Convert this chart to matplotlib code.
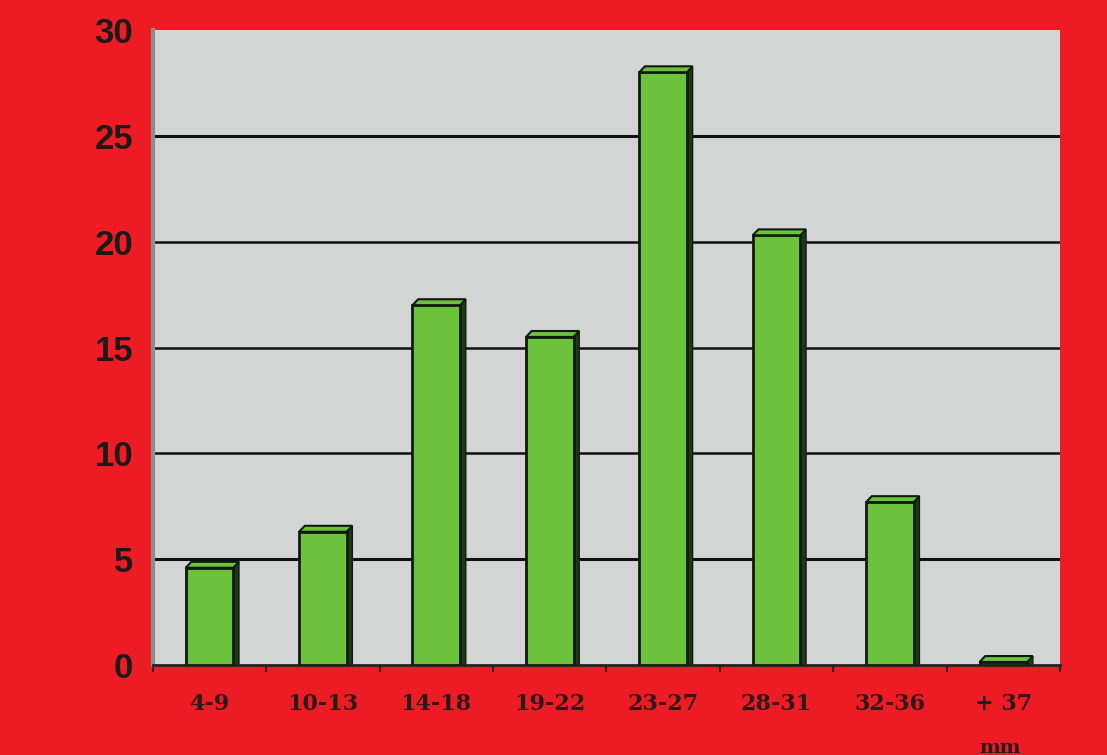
import numpy as np
import matplotlib
matplotlib.use('Agg')
import matplotlib.pyplot as plt
from matplotlib.patches import Polygon
import matplotlib.transforms as mtransforms

# dati
categorie = ['4-9', '10-13', '14-18', '19-22', '23-27', '28-31', '32-36', '+ 37']
valori = [4.6, 6.3, 17.0, 15.5, 28.0, 20.3, 7.7, 0.15]
yticks = [0, 5, 10, 15, 20, 25, 30]

rosso = '#ED1C24'
grigio = '#D3D5D4'
verde = '#6DC23B'

fig = plt.figure(figsize=(11.07, 7.55), dpi=100)
fig.patch.set_facecolor(rosso)
ax = fig.add_axes([0.138, 0.119, 0.8196, 0.8414])
ax.set_facecolor(grigio)

x = np.arange(len(categorie))
larg = 0.42
dx = 0.05   # profondita' finta 3D
dy = 0.28

# linee orizzontali
for v in yticks[1:-1]:
    ax.axhline(v, color='#111111', lw=2.2 if v in (5, 25) else 1.8, zorder=1)

ax.bar(x, valori, width=larg, color=verde, edgecolor='#0d1a0d', linewidth=2, zorder=3)
for xi, v in zip(x, valori):
    # tappo superiore
    tappo = Polygon([[xi - larg/2, v], [xi - larg/2 + dx, v + dy], [xi + larg/2 + dx, v + dy], [xi + larg/2, v]],
                    closed=True, facecolor=verde, edgecolor='#0d1a0d', lw=1.5, zorder=4)
    ax.add_patch(tappo)
    # fianco destro scuro
    fianco = Polygon([[xi + larg/2, 0], [xi + larg/2, v], [xi + larg/2 + dx, v + dy], [xi + larg/2 + dx, 0]],
                     closed=True, facecolor='#1f3a14', edgecolor='#0d1a0d', lw=1, zorder=2)
    ax.add_patch(fianco)

ax.set_xlim(-0.5, len(categorie) - 0.5)
ax.set_ylim(0, 30)

ax.set_yticks(yticks)
ax.set_yticklabels([str(t) for t in yticks], fontsize=25, fontweight='bold', family='Liberation Sans', color='#1a1a1a')
ax.tick_params(axis='y', length=0, pad=14)

ax.set_xticks(x)
ax.set_xticklabels(categorie, fontsize=16, fontweight='bold', family='DejaVu Serif', color='#2a1a1a')
ax.set_xticks(np.arange(len(categorie) + 1) - 0.5, minor=True)
ax.tick_params(axis='x', which='major', length=0, pad=20)
ax.tick_params(axis='x', which='minor', length=5, width=1.5, direction='out', color='#222222')

trans = mtransforms.blended_transform_factory(ax.transData, ax.transAxes)
ax.text(6.97, -0.13, 'mm', transform=trans, ha='center', va='center', fontsize=14,
        fontweight='bold', family='DejaVu Serif', color='#2a1a1a')

for lato in ['top', 'right']:
    ax.spines[lato].set_visible(False)
ax.spines['left'].set_color('#8a8f8c')
ax.spines['left'].set_linewidth(3)
ax.spines['bottom'].set_color('#222222')
ax.spines['bottom'].set_linewidth(2)

fig.savefig('out.png', dpi=100, facecolor=rosso)
